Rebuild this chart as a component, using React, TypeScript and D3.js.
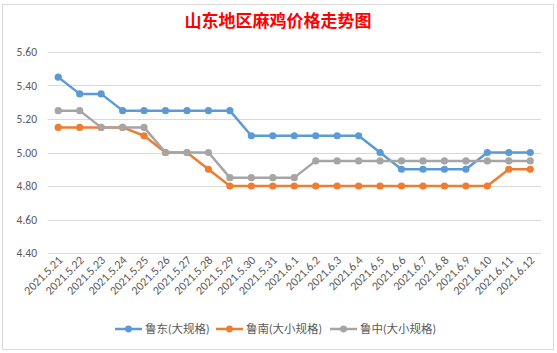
import React from "react";
import * as d3 from "d3";

const categories = ["2021.5.21","2021.5.22","2021.5.23","2021.5.24","2021.5.25","2021.5.26","2021.5.27","2021.5.28","2021.5.29","2021.5.30","2021.5.31","2021.6.1","2021.6.2","2021.6.3","2021.6.4","2021.6.5","2021.6.6","2021.6.7","2021.6.8","2021.6.9","2021.6.10","2021.6.11","2021.6.12"];
const ludong = [5.45,5.35,5.35,5.25,5.25,5.25,5.25,5.25,5.25,5.10,5.10,5.10,5.10,5.10,5.10,5.00,4.90,4.90,4.90,4.90,5.00,5.00,5.00];
const lunan = [5.15,5.15,5.15,5.15,5.10,5.00,5.00,4.90,4.80,4.80,4.80,4.80,4.80,4.80,4.80,4.80,4.80,4.80,4.80,4.80,4.80,4.90,4.90];
const luzhong = [5.25,5.25,5.15,5.15,5.15,5.00,5.00,5.00,4.85,4.85,4.85,4.85,4.95,4.95,4.95,4.95,4.95,4.95,4.95,4.95,4.95,4.95,4.95];
const seriesNames = ["鲁东(大规格)","鲁南(大小规格)","鲁中(大小规格)"];
const seriesColors = ["#5B9BD5","#ED7D31","#A5A5A5"];
const yTicks = [4.4,4.6,4.8,5.0,5.2,5.4,5.6];
const title = "山东地区麻鸡价格走势图";

const W = 557, H = 353;
const plot = { left: 47.5, right: 541, top: 52, bottom: 253 };
const font = "Carlito, Calibri, 'Noto Sans CJK SC', 'Noto Sans', sans-serif";

export default function App() {
  const x = d3.scaleBand<string>().domain(categories).range([plot.left, plot.right]);
  const y = d3.scaleLinear().domain([4.4, 5.6]).range([plot.bottom, plot.top]);
  const cx = (c: string) => (x(c) as number) + x.bandwidth() / 2;
  const all = [ludong, lunan, luzhong];
  const line = d3.line<number>().x((_, i) => cx(categories[i])).y((d) => y(d));
  const legendX = [115, 216, 330];

  return (
    <svg width={W} height={H} style={{ position: "absolute", left: 0, top: 0, background: "#fff" }}>
      <rect x={2.5} y={4.5} width={551} height={345} fill="#fff" stroke="#D9D9D9" />
      <text x={278} y={27} textAnchor="middle" fill="#FF0000" fontSize={17} fontWeight="bold"
        fontFamily="'Noto Sans CJK SC', sans-serif">{title}</text>
      {yTicks.map((t) => (
        <g key={t}>
          <line x1={plot.left} x2={plot.right} y1={Math.round(y(t)) + 0.5} y2={Math.round(y(t)) + 0.5} stroke="#D9D9D9" strokeWidth={1} />
          <text x={37} y={y(t) + 4} textAnchor="end" fill="#595959" fontSize={11.5} fontFamily={font}>{t.toFixed(2)}</text>
        </g>
      ))}
      {categories.map((c) => (
        <text key={c} transform={`translate(${cx(c) + 5},${261}) rotate(-45)`} textAnchor="end" fill="#595959"
          fontSize={12} fontFamily={font}>{c}</text>
      ))}
      {all.map((s, k) => (
        <g key={k}>
          <path d={line(s) as string} fill="none" stroke={seriesColors[k]} strokeWidth={2.5} strokeLinejoin="round" />
          {s.map((v, i) => (
            <circle key={i} cx={cx(categories[i])} cy={y(v)} r={3.6} fill={seriesColors[k]} />
          ))}
        </g>
      ))}
      {seriesNames.map((n, k) => (
        <g key={n}>
          <line x1={legendX[k]} x2={legendX[k] + 27} y1={329} y2={329} stroke={seriesColors[k]} strokeWidth={2.5} />
          <circle cx={legendX[k] + 13.5} cy={329} r={3.4} fill={seriesColors[k]} />
          <text x={legendX[k] + 30} y={333} fill="#595959" fontSize={11.5} fontFamily={font}>{n}</text>
        </g>
      ))}
    </svg>
  );
}
